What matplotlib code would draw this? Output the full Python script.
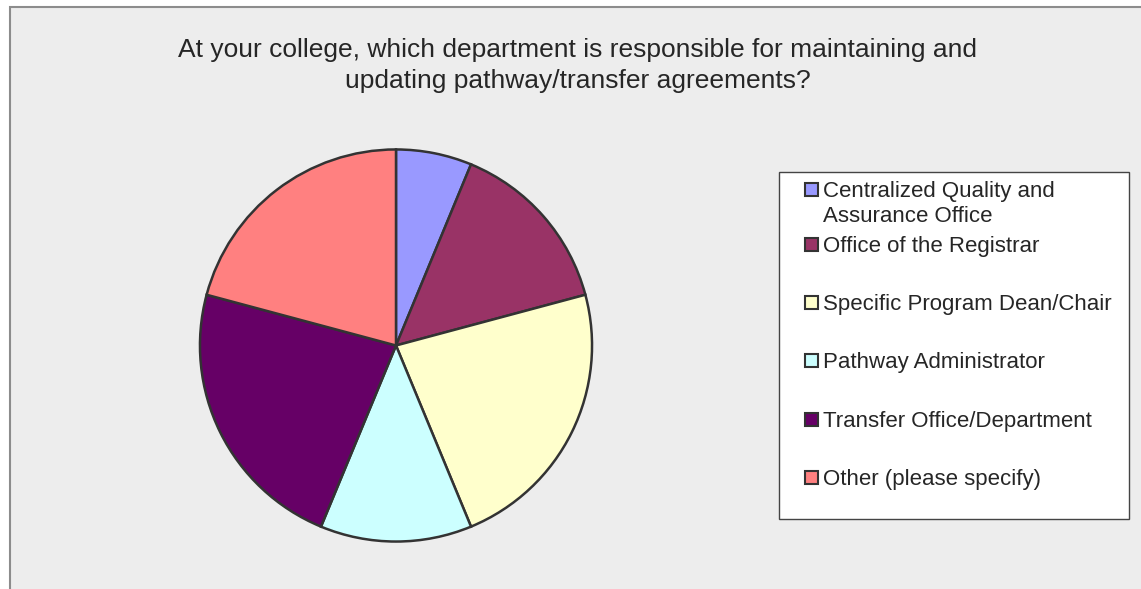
import matplotlib.pyplot as plt
from matplotlib.patches import Rectangle

plt.rcParams['font.family'] = ['Liberation Sans', 'DejaVu Sans']

title_lines = ["At your college, which department is responsible for maintaining and",
               "updating pathway/transfer agreements?"]
labels = ["Centralized Quality and\nAssurance Office", "Office of the Registrar",
          "Specific Program Dean/Chair", "Pathway Administrator",
          "Transfer Office/Department", "Other (please specify)"]
counts = [3, 7, 11, 6, 11, 10]
colors = ["#9999FF", "#993366", "#FFFFCC", "#CCFFFF", "#660066", "#FF8080"]

W, H = 1141, 589
fig = plt.figure(figsize=(W / 100, H / 100), dpi=100)
ax = fig.add_axes([0, 0, 1, 1])
ax.set_xlim(0, W)
ax.set_ylim(H, 0)
ax.axis('off')

# chart area background with frame
ax.add_patch(Rectangle((10, 7), W, H, facecolor="#EDEDED", edgecolor="#8C8C8C", lw=1.5, zorder=0))

for i, line in enumerate(title_lines):
    ax.text(578, 57 + 31 * i, line, ha='center', va='baseline', fontsize=19, color="#262626")

# pie in its own axes positioned over the pixel area
cx, cy, r = 396, 345.5, 198
pax = fig.add_axes([(cx - r) / W, 1 - (cy + r) / H, 2 * r / W, 2 * r / H])
pax.pie(counts, colors=colors, startangle=90, counterclock=False, radius=1,
        wedgeprops=dict(edgecolor="#333333", linewidth=1.8))
pax.set_xlim(-1.01, 1.01)
pax.set_ylim(-1.01, 1.01)
pax.set_aspect('auto')
pax.axis('off')

# legend drawn by hand
ax.add_patch(Rectangle((779, 172), 350, 347, facecolor="white", edgecolor="#444444", lw=1, zorder=1))
baselines = [197, 252, 310, 368, 427, 485]
for lab, col, yb in zip(labels, colors, baselines):
    ax.add_patch(Rectangle((805, yb - 14), 13, 13, facecolor=col, edgecolor="#333333", lw=1.5, zorder=2))
    for j, part in enumerate(lab.split("\n")):
        ax.text(823, yb + 25 * j, part, ha='left', va='baseline', fontsize=16, color="#262626", zorder=3)

fig.savefig("out.png", dpi=100)
